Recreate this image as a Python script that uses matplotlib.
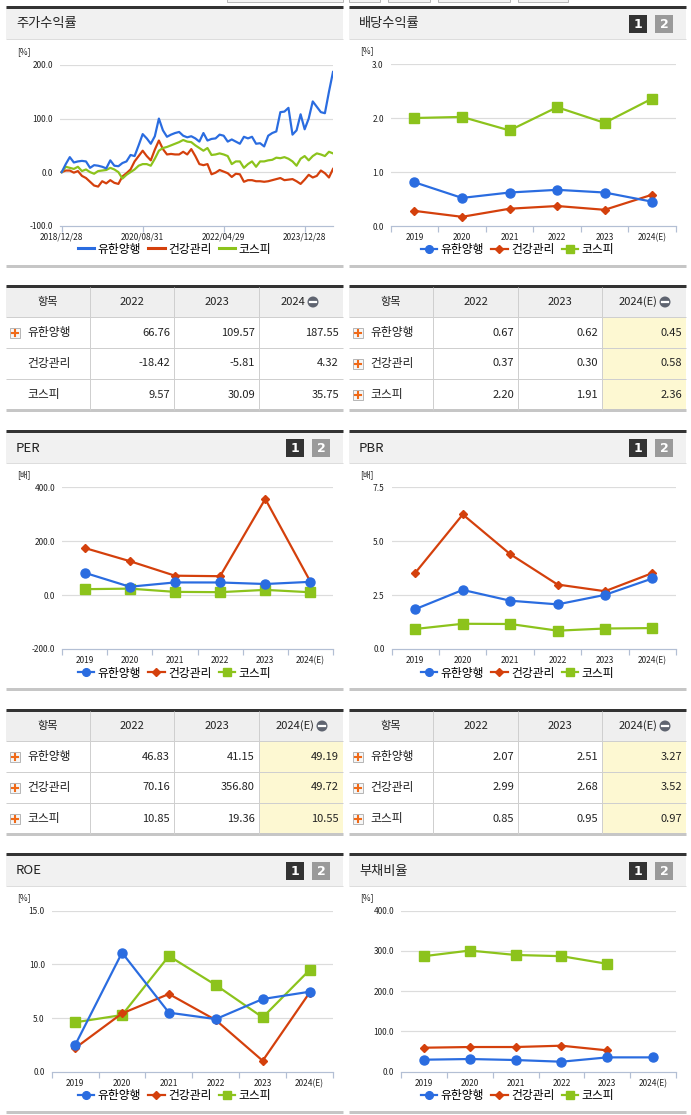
import numpy as np
import matplotlib
matplotlib.use('Agg')
import matplotlib.pyplot as plt
from matplotlib.patches import Rectangle, Circle
from matplotlib.lines import Line2D

plt.rcParams['font.family'] = ['Noto Sans CJK KR', 'DejaVu Sans']

# ---- data ----
names = ['유한양행', '건강관리', '코스피']
years = ['2019', '2020', '2021', '2022', '2023', '2024(E)']

# monthly stock return since 2018/12/28 (%)
ret_yuhan = [0, 15, 28, 18, 20, 21, 20, 8, 13, 12, 10, 7, 22, 12, 11, 17, 20, 32, 30, 50,
             71, 63, 53, 67, 100, 78, 66, 70, 73, 75, 68, 65, 67, 63, 57, 73, 59, 62, 63, 70,
             68, 57, 61, 57, 53, 66, 63, 66, 53, 54, 48, 68, 73, 76, 112, 113, 120, 70, 78, 108,
             80, 100, 132, 122, 112, 110, 150, 187]
ret_health = [0, 3, 3, -1, 2, -7, -11, -18, -25, -27, -17, -21, -15, -20, -22, -8, -2, 5, 20, 30,
              40, 30, 22, 42, 59, 43, 33, 34, 33, 33, 38, 33, 43, 30, 15, 13, 15, -4, -1, 4,
              1, -2, -9, -3, -4, -18, -15, -15, -17, -17, -18, -17, -15, -13, -11, -15, -14, -13, -17, -22,
              -14, -5, -10, -7, 3, -2, -10, 6]
ret_kospi = [0, 10, 8, 6, 10, 2, 5, 0, -3, 2, 3, 4, 8, 5, 0, -12, -5, 0, 5, 12,
             15, 15, 12, 25, 40, 45, 47, 50, 53, 56, 60, 57, 56, 50, 45, 40, 45, 32, 33, 35,
             33, 30, 15, 20, 20, 8, 15, 20, 10, 20, 20, 22, 23, 27, 26, 28, 25, 20, 12, 25,
             30, 22, 30, 35, 33, 30, 38, 35]
ret_ticks = [0, 20, 40, 60]
ret_tick_labels = ['2018/12/28', '2020/08/31', '2022/04/29', '2023/12/28']

div_yuhan = [0.81, 0.52, 0.62, 0.67, 0.62, 0.45]
div_health = [0.28, 0.17, 0.32, 0.37, 0.30, 0.58]
div_kospi = [2.00, 2.02, 1.77, 2.20, 1.91, 2.36]

per_yuhan = [83, 31, 47, 46.83, 41.15, 49.19]
per_health = [175, 126, 72, 70.16, 356.80, 49.72]
per_kospi = [22, 24, 12, 10.85, 19.36, 10.55]

pbr_yuhan = [1.85, 2.74, 2.24, 2.07, 2.51, 3.27]
pbr_health = [3.54, 6.24, 4.40, 2.99, 2.68, 3.52]
pbr_kospi = [0.93, 1.17, 1.16, 0.85, 0.95, 0.97]

roe_yuhan = [2.48, 11.09, 5.5, 4.9, 6.77, 7.45]
roe_health = [2.2, 5.43, 7.24, 4.81, 1.02, 7.36]
roe_kospi = [4.6, 5.28, 10.78, 8.07, 5.06, 9.47]

debt_yuhan = [29.8, 31.5, 29.0, 24.8, 35.6, 35.6]
debt_health = [59.6, 61.3, 61.3, 64.6, 53.0, None]
debt_kospi = [287, 301, 290, 287, 268, None]

tbl_years_ret = ['2022', '2023', '2024']
tbl_years = ['2022', '2023', '2024(E)']
tbl_ret = [['66.76', '109.57', '187.55'], ['-18.42', '-5.81', '4.32'], ['9.57', '30.09', '35.75']]
tbl_div = [['0.67', '0.62', '0.45'], ['0.37', '0.30', '0.58'], ['2.20', '1.91', '2.36']]
tbl_per = [['46.83', '41.15', '49.19'], ['70.16', '356.80', '49.72'], ['10.85', '19.36', '10.55']]
tbl_pbr = [['2.07', '2.51', '3.27'], ['2.99', '2.68', '3.52'], ['0.85', '0.95', '0.97']]

BLUE = '#2a6ce0'
RED = '#d4400c'
GREEN = '#8cc31c'
AXC = '#b3bfd4'
GRID = '#dcdcdc'

W, H = 691, 1115
fig = plt.figure(figsize=(W / 100, H / 100), dpi=100)
bg = fig.add_axes([0, 0, 1, 1])
bg.set_xlim(0, W)
bg.set_ylim(H, 0)
bg.axis('off')

PX = 0.72  # points per pixel


def add_ax(x0, y0, x1, y1):
    return fig.add_axes([x0 / W, 1 - y1 / H, (x1 - x0) / W, (y1 - y0) / H])


def hline(x0, x1, y, color, px=1):
    bg.plot([x0, x1], [y, y], color=color, lw=px * PX, solid_capstyle='butt')


def vline(x, y0, y1, color, px=1):
    bg.plot([x, x], [y0, y1], color=color, lw=px * PX, solid_capstyle='butt')


# top tabs (cut off)
for tx0, tx1 in [(227, 343), (349, 380), (388, 430), (438, 510), (518, 568)]:
    bg.add_patch(Rectangle((tx0, -4), tx1 - tx0, 6, fc='#f4f4f4', ec='#b8b8b8', lw=0.7))


def panel(x0, x1, top, bottom, title, buttons=True):
    bg.add_patch(Rectangle((x0, top), x1 - x0, 32, fc='#f1f1f1', ec='none'))
    hline(x0, x1, top, '#333333', 3)
    hline(x0, x1, top + 32, '#dddddd', 1)
    hline(x0, x1, bottom, '#c6c6c6', 3)
    bg.text(x0 + 10, top + 17, title, fontsize=9.5, va='center', ha='left', color='#222222')
    if buttons:
        for bx, fc, lab in [(x1 - 57, '#333333', '1'), (x1 - 31, '#9a9a9a', '2')]:
            bg.add_patch(Rectangle((bx, top + 8), 18, 18, fc=fc, ec='none'))
            bg.text(bx + 9, top + 17.5, lab, fontsize=9, fontweight='bold', color='white',
                    ha='center', va='center', family='DejaVu Sans')


def style_axes(ax, yticks, fmt='{:.1f}'):
    ax.set_yticks(yticks)
    ax.set_yticklabels([fmt.format(v) for v in yticks], fontsize=6, color='#222222')
    ax.set_ylim(yticks[0], yticks[-1])
    for s in ['top', 'right', 'left']:
        ax.spines[s].set_visible(False)
    ax.spines['bottom'].set_color(AXC)
    ax.spines['bottom'].set_linewidth(1.2 * PX)
    ax.tick_params(axis='y', length=0, pad=5)
    for v in yticks[1:]:
        ax.axhline(v, color=GRID, lw=1.2 * PX, zorder=0)
    ax.patch.set_alpha(0)


def legend(ax, handles, cx, cy):
    ax.legend(handles=handles, labels=names, loc='center', bbox_to_anchor=(cx / W, 1 - cy / H),
              bbox_transform=fig.transFigure, ncol=3, frameon=False, fontsize=8.5,
              handlelength=1.4, handletextpad=0.3, columnspacing=0.6, markerscale=0.85)


def cat_chart(x0, x1, y0, y1, s_yuhan, s_health, s_kospi, yticks, px0, top, unit):
    ax = add_ax(x0, y0, x1, y1)
    xs = np.arange(6)

    def arr(v):
        return np.array([np.nan if a is None else a for a in v], dtype=float)

    lw = 2 * PX * 1.1
    h1, = ax.plot(xs, arr(s_yuhan), color=BLUE, lw=lw, marker='o', ms=6.5, zorder=5, clip_on=False)
    h2, = ax.plot(xs, arr(s_health), color=RED, lw=lw, marker='D', ms=4.5, zorder=4, clip_on=False)
    h3, = ax.plot(xs, arr(s_kospi), color=GREEN, lw=lw, marker='s', ms=6.5, zorder=3, clip_on=False)
    ax.set_xlim(-0.5, 5.5)
    style_axes(ax, yticks)
    ax.set_xticks(xs)
    ax.set_xticklabels(years, fontsize=6, color='#222222')
    ax.set_xticks(np.arange(-0.5, 6, 1), minor=True)
    ax.tick_params(axis='x', which='major', length=0, pad=5)
    ax.tick_params(axis='x', which='minor', length=4, color=AXC, width=1.2 * PX)
    legend(ax, [h1, h2, h3], px0 + 168.5, y1 + 24)
    bg.text(px0 + 11, top + 44, unit, fontsize=6, ha='left', va='center', color='#222222')
    return ax


# ---- panel 1: stock return ----
panel(6, 343, 7, 266, '주가수익률', buttons=False)
ax = add_ax(60, 65, 333, 225.7)
xi = np.arange(len(ret_yuhan))
h1, = ax.plot(xi, ret_yuhan, color=BLUE, lw=2 * PX * 1.1, zorder=5)
h2, = ax.plot(xi, ret_health, color=RED, lw=2 * PX * 1.1, zorder=3)
h3, = ax.plot(xi, ret_kospi, color=GREEN, lw=2 * PX * 1.1, zorder=4)
ax.set_xlim(-0.42, 67.0)
style_axes(ax, [-100, 0, 100, 200])
ax.set_xticks(ret_ticks)
ax.set_xticklabels(ret_tick_labels, fontsize=6, color='#222222')
ax.tick_params(axis='x', length=4, color=AXC, width=1.2 * PX, pad=1)
legend(ax, [Line2D([], [], color=c, lw=2.2) for c in (BLUE, RED, GREEN)], 174.5, 249)
bg.text(17, 52, '[%]', fontsize=6, ha='left', va='center', color='#222222')

# ---- panel 2: dividend ----
panel(349, 686, 7, 266, '배당수익률')
cat_chart(390.7, 676, 64, 226, div_yuhan, div_health, div_kospi, [0, 1, 2, 3], 349, 7, '[%]')

# ---- PER / PBR ----
panel(6, 343, 431, 689, 'PER')
cat_chart(62, 333, 487.3, 649, per_yuhan, per_health, per_kospi, [-200, 0, 200, 400], 6, 431, '[배]')
panel(349, 686, 431, 689, 'PBR')
cat_chart(391.7, 676, 487.3, 649, pbr_yuhan, pbr_health, pbr_kospi, [0, 2.5, 5, 7.5], 349, 431, '[배]')

# ---- ROE / debt ----
panel(6, 343, 854, 1112, 'ROE')
cat_chart(51.7, 333, 910.7, 1071.7, roe_yuhan, roe_health, roe_kospi, [0, 5, 10, 15], 6, 854, '[%]')
panel(349, 686, 854, 1112, '부채비율')
cat_chart(401, 676, 910.7, 1071.7, debt_yuhan, debt_health, debt_kospi, [0, 100, 200, 300, 400],
          349, 854, '[%]')


# ---- tables ----
def plus_icon(cx, cy):
    bg.add_patch(Rectangle((cx - 5, cy - 5), 10, 10, fc='#f6f6f6', ec='#b5b5b5', lw=0.7))
    bg.plot([cx - 3, cx + 3], [cy, cy], color='#f06a18', lw=1.5)
    bg.plot([cx, cx], [cy - 3, cy + 3], color='#f06a18', lw=1.5)


def minus_icon(cx, cy):
    bg.add_patch(Circle((cx, cy), 5.5, fc='#5f6470', ec='none'))
    bg.plot([cx - 3, cx + 3], [cy, cy], color='white', lw=1.6)


def table(cols, top, heads, rows, highlight, icons):
    x0, x1 = cols[0], cols[-1]
    hb = top + 31
    rb = [hb, hb + 31, hb + 62, hb + 93]
    bg.add_patch(Rectangle((x0, top), x1 - x0, 31, fc='#efefef', ec='none'))
    if highlight:
        bg.add_patch(Rectangle((cols[3], hb), x1 - cols[3], 93, fc='#fdf8d2', ec='none'))
    hline(x0, x1, top, '#333333', 3)
    for y in rb[:-1]:
        hline(x0, x1, y, '#cfcfcf', 1)
    hline(x0, x1, rb[-1], '#c6c6c6', 3)
    for c in cols[1:-1]:
        vline(c, top + 1, rb[-1], '#cfcfcf', 1)
    bg.text((cols[0] + cols[1]) / 2, top + 16, '항목', fontsize=8, ha='center', va='center', color='#222222')
    for j, hd in enumerate(heads):
        cx = (cols[j + 1] + cols[j + 2]) / 2
        if j == 2:
            ix = x1 - (30 if len(hd) == 4 else 21)
            minus_icon(ix, top + 16)
            bg.text(ix - 8, top + 16, hd, fontsize=8, ha='right', va='center', color='#222222')
        else:
            bg.text(cx, top + 16, hd, fontsize=8, ha='center', va='center', color='#222222')
    for i, (nm, vals) in enumerate(zip(names, rows)):
        cy = (rb[i] + rb[i + 1]) / 2
        if icons[i]:
            plus_icon(x0 + 9, cy)
        bg.text(x0 + 21, cy, nm, fontsize=8.5, ha='left', va='center', color='#222222')
        for j, v in enumerate(vals):
            bg.text(cols[j + 2] - 4, cy, v, fontsize=8, ha='right', va='center', color='#222222')


LC = [6, 90, 174, 259, 343]
RC = [349, 433, 518, 602, 686]
table(LC, 286, tbl_years_ret, tbl_ret, False, [True, False, False])
table(RC, 286, tbl_years, tbl_div, True, [True, True, True])
table(LC, 710, tbl_years, tbl_per, True, [True, True, True])
table(RC, 710, tbl_years, tbl_pbr, True, [True, True, True])

fig.savefig('out.png', dpi=100)
